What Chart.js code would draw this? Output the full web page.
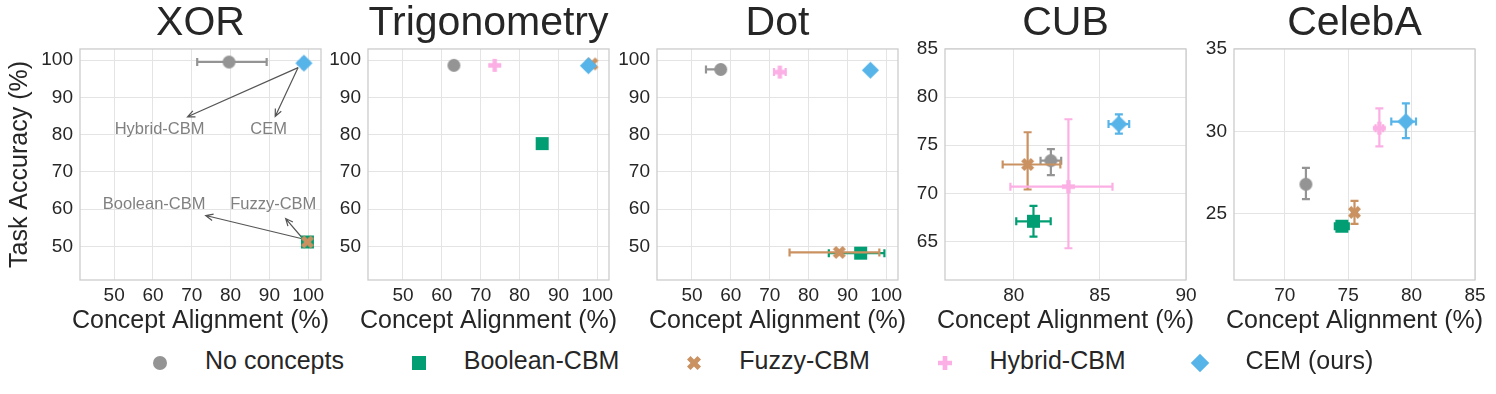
<!DOCTYPE html>
<html>
<head>
<meta charset="utf-8">
<script src="https://cdn.jsdelivr.net/npm/chart.js@4.4.1/dist/chart.umd.min.js"></script>
<style>
  html, body { margin: 0; padding: 0; background: #fff; }
  body { width: 1496px; height: 394px; position: relative; overflow: hidden;
         font-family: "Liberation Sans", Arial, sans-serif; }
  canvas.panel { position: absolute; top: 0; }
  #legend { position: absolute; left: 150px; top: 346px; display: flex; align-items: center;
            color: #262626; font-size: 25px; white-space: nowrap; }
  .item { display: flex; align-items: center; margin-right: 64.8px; }
  .item canvas { margin-right: 35px; margin-top: 4px; }
</style>
</head>
<body>
<canvas id="c0" class="panel"></canvas>
<canvas id="c1" class="panel"></canvas>
<canvas id="c2" class="panel"></canvas>
<canvas id="c3" class="panel"></canvas>
<canvas id="c4" class="panel"></canvas>
<div id="legend"></div>
<script>
// methods, in legend order
const methods = ['No concepts', 'Boolean-CBM', 'Fuzzy-CBM', 'Hybrid-CBM', 'CEM (ours)'];
const colors = ['#949494', '#029e73', '#ca9161', '#fbafe4', '#56b4e9'];
const shapes = ['circle', 'square', 'x', 'plus', 'diamond'];

// XOR
const xorX = [79.6, 99.8, 99.8, 98.8, 98.9];
const xorY = [99.5, 51.2, 51.2, 99.2, 99.2];
const xorXErr = [[8.2, 9.7], 0, 0, 0, 0];
const xorYErr = [0, 0, 0, 0, 0];

// Trigonometry
const trigX = [63.1, 85.8, 98.6, 73.6, 97.7];
const trigY = [98.6, 77.6, 99.0, 98.6, 98.5];
const trigXErr = [0, 0, 0, 0, 0];
const trigYErr = [0, 0, 0, 0, 0];

// Dot
const dotX = [57.4, 93.4, 87.9, 72.6, 95.9];
const dotY = [97.5, 48.2, 48.4, 96.8, 97.3];
const dotXErr = [[3.8, 0.8], [8.2, 6.1], [12.8, 10.3], 1.5, 0];
const dotYErr = [0, 0, 0, 0, 0];

// CUB
const cubX = [82.15, 81.14, 80.8, 83.17, 86.1];
const cubY = [73.4, 67.1, 73.0, 70.7, 77.2];
const cubXErr = [0.6, 1.0, [1.45, 1.9], [3.37, 2.56], 0.6];
const cubYErr = [[1.5, 1.2], 1.6, [2.6, 3.35], [6.4, 7.0], 1.0];

// CelebA
const celebX = [71.67, 74.5, 75.5, 77.46, 79.55];
const celebY = [26.8, 24.26, 25.1, 30.2, 30.6];
const celebXErr = [0.2, 0.55, 0.2, 0.3, [1.15, 0.8]];
const celebYErr = [[0.9, 1.0], 0.1, 0.7, [1.1, 1.2], [1.0, 1.1]];

// axes
const pctTicks = [50, 60, 70, 80, 90, 100];
const pctRange = [41, 103];
const cubXTicks = [80, 85, 90];
const cubYTicks = [65, 70, 75, 80, 85];
const cubXRange = [76, 90];
const cubYRange = [61, 85];
const celebXTicks = [70, 75, 80, 85];
const celebYTicks = [25, 30, 35];
const celebXRange = [66, 85];
const celebYRange = [21, 35];

// XOR annotations
const noteText = ['Hybrid-CBM', 'CEM', 'Boolean-CBM', 'Fuzzy-CBM'];
const noteX = [61.7, 89.8, 60.3, 91.0];
const noteY = [81.5, 81.5, 61.3, 61.3];
const arrowFromX = [97.4, 97.4, 98.7, 98.7];
const arrowFromY = [98.0, 98.0, 52.0, 52.0];
const arrowToX = [68.9, 91.5, 73.6, 94.2];
const arrowToY = [84.8, 84.9, 58.3, 57.5];

const xLabel = 'Concept Alignment (%)';
const yLabel = 'Task Accuracy (%)';

const FONT = '"Liberation Sans", Arial, sans-serif';
const INK = '#262626';
Chart.defaults.font.family = FONT;

const panels = [
  { title: 'XOR', x: xorX, y: xorY, xErr: xorXErr, yErr: xorYErr,
    xRange: [41.2, 103.3], yRange: pctRange, xTicks: pctTicks, yTicks: pctTicks },
  { title: 'Trigonometry', x: trigX, y: trigY, xErr: trigXErr, yErr: trigYErr,
    xRange: pctRange, yRange: pctRange, xTicks: pctTicks, yTicks: pctTicks },
  { title: 'Dot', x: dotX, y: dotY, xErr: dotXErr, yErr: dotYErr,
    xRange: pctRange, yRange: pctRange, xTicks: pctTicks, yTicks: pctTicks },
  { title: 'CUB', x: cubX, y: cubY, xErr: cubXErr, yErr: cubYErr,
    xRange: cubXRange, yRange: cubYRange, xTicks: cubXTicks, yTicks: cubYTicks },
  { title: 'CelebA', x: celebX, y: celebY, xErr: celebXErr, yErr: celebYErr,
    xRange: celebXRange, yRange: celebYRange, xTicks: celebXTicks, yTicks: celebYTicks }
];

const plotLefts = [80, 368, 657, 945, 1234];
const plotW = 241;

// matplotlib-like filled markers
const PLUS = [[-1,-3],[1,-3],[1,-1],[3,-1],[3,1],[1,1],[1,3],[-1,3],[-1,1],[-3,1],[-3,-1],[-1,-1]].map(p => [p[0]/6, p[1]/6]);
const XSHAPE = [[-1,-2],[0,-1],[1,-2],[2,-1],[1,0],[2,1],[1,2],[0,1],[-1,2],[-2,1],[-1,0],[-2,-1]].map(p => [p[0]/4, p[1]/4]);

function drawMarker(ctx, shape, cx, cy, s, color) {
  ctx.fillStyle = color;
  ctx.beginPath();
  if (shape === 'circle') {
    ctx.arc(cx, cy, s / 2, 0, Math.PI * 2);
  } else if (shape === 'square') {
    ctx.rect(cx - s / 2, cy - s / 2, s, s);
  } else if (shape === 'diamond') {
    const r = s * 0.66;
    ctx.moveTo(cx, cy - r); ctx.lineTo(cx + r, cy); ctx.lineTo(cx, cy + r); ctx.lineTo(cx - r, cy);
    ctx.closePath();
  } else {
    const pts = shape === 'plus' ? PLUS : XSHAPE;
    pts.forEach((p, k) => {
      const px = cx + p[0] * s, py = cy + p[1] * s;
      if (k === 0) ctx.moveTo(px, py); else ctx.lineTo(px, py);
    });
    ctx.closePath();
  }
  ctx.fill();
}

function markerImage(shape, color, s) {
  const c = document.createElement('canvas');
  const n = Math.ceil(s * 1.4) + 2;
  c.width = n; c.height = n;
  drawMarker(c.getContext('2d'), shape, n / 2, n / 2, s, color);
  return c;
}

const pair = e => Array.isArray(e) ? e : [e, e];

const errorBars = {
  id: 'errorBars',
  beforeDatasetDraw(chart, args) {
    const ds = chart.data.datasets[args.index];
    const xs = chart.scales.x, ys = chart.scales.y, ctx = chart.ctx;
    const cap = 4;
    ctx.save();
    ctx.strokeStyle = ds.errColor;
    ctx.lineWidth = 2.2;
    ds.data.forEach((p, j) => {
      const ex = pair(ds.xErr[j]), ey = pair(ds.yErr[j]);
      const px = xs.getPixelForValue(p.x), py = ys.getPixelForValue(p.y);
      ctx.beginPath();
      if (ex[0] || ex[1]) {
        const a = xs.getPixelForValue(p.x - ex[0]), b = xs.getPixelForValue(p.x + ex[1]);
        ctx.moveTo(a, py); ctx.lineTo(b, py);
        ctx.moveTo(a, py - cap); ctx.lineTo(a, py + cap);
        ctx.moveTo(b, py - cap); ctx.lineTo(b, py + cap);
      }
      if (ey[0] || ey[1]) {
        const a = ys.getPixelForValue(p.y - ey[0]), b = ys.getPixelForValue(p.y + ey[1]);
        ctx.moveTo(px, a); ctx.lineTo(px, b);
        ctx.moveTo(px - cap, a); ctx.lineTo(px + cap, a);
        ctx.moveTo(px - cap, b); ctx.lineTo(px + cap, b);
      }
      ctx.stroke();
    });
    ctx.restore();
  }
};

// plot frame on all four sides, plus the x-axis label drawn at full width
const frame = {
  id: 'frame',
  beforeDatasetsDraw(chart) {
    const { left, top, width, height } = chart.chartArea;
    const ctx = chart.ctx;
    ctx.save();
    ctx.strokeStyle = '#cccccc';
    ctx.lineWidth = 1.3;
    ctx.strokeRect(left, top, width, height);
    ctx.restore();
  },
  afterDraw(chart) {
    const { left, right } = chart.chartArea;
    const ctx = chart.ctx;
    ctx.save();
    ctx.fillStyle = INK;
    ctx.font = '25px ' + FONT;
    ctx.textAlign = 'center';
    ctx.textBaseline = 'middle';
    ctx.fillText(xLabel, (left + right) / 2, 321.5);
    ctx.restore();
  }
};

const xorNotes = {
  id: 'xorNotes',
  beforeDatasetsDraw(chart) {
    const xs = chart.scales.x, ys = chart.scales.y, ctx = chart.ctx;
    ctx.save();
    ctx.strokeStyle = '#555555';
    ctx.lineWidth = 1.2;
    noteText.forEach((t, i) => {
      const x0 = xs.getPixelForValue(arrowFromX[i]), y0 = ys.getPixelForValue(arrowFromY[i]);
      const x1 = xs.getPixelForValue(arrowToX[i]), y1 = ys.getPixelForValue(arrowToY[i]);
      const ang = Math.atan2(y1 - y0, x1 - x0), h = 8;
      ctx.beginPath();
      ctx.moveTo(x0, y0); ctx.lineTo(x1, y1);
      ctx.moveTo(x1 - h * Math.cos(ang - 0.42), y1 - h * Math.sin(ang - 0.42));
      ctx.lineTo(x1, y1);
      ctx.lineTo(x1 - h * Math.cos(ang + 0.42), y1 - h * Math.sin(ang + 0.42));
      ctx.stroke();
    });
    ctx.fillStyle = '#808080';
    ctx.font = '16.5px ' + FONT;
    ctx.textAlign = 'center';
    ctx.textBaseline = 'middle';
    noteText.forEach((t, i) => {
      ctx.fillText(t, xs.getPixelForValue(noteX[i]), ys.getPixelForValue(noteY[i]));
    });
    ctx.restore();
  }
};

const fixedTicks = vals => scale => { scale.ticks = vals.map(v => ({ value: v })); };

panels.forEach((P, i) => {
  const yW = i === 0 ? 80 : 50;
  const canvas = document.getElementById('c' + i);
  canvas.width = yW + plotW + 30;
  canvas.height = 340;
  canvas.style.left = (plotLefts[i] - yW) + 'px';

  const datasets = methods.map((m, k) => ({
    label: m,
    data: [{ x: P.x[k], y: P.y[k] }],
    xErr: [P.xErr[k]],
    yErr: [P.yErr[k]],
    errColor: colors[k],
    pointStyle: markerImage(shapes[k], colors[k], 13),
    pointRadius: 7,
    order: methods.length - k,
    clip: false
  }));

  new Chart(canvas, {
    type: 'scatter',
    data: { datasets },
    options: {
      responsive: false,
      animation: false,
      devicePixelRatio: 1,
      events: [],
      layout: { padding: { left: 0, right: 30, top: 0, bottom: 0 } },
      plugins: {
        legend: { display: false },
        tooltip: { enabled: false },
        title: {
          display: true, text: P.title, fullSize: false, color: INK,
          font: { size: 41, weight: 'normal', lineHeight: 1.17 }, padding: { top: 0, bottom: 1 }
        }
      },
      scales: {
        x: {
          type: 'linear', min: P.xRange[0], max: P.xRange[1],
          afterBuildTicks: fixedTicks(P.xTicks),
          afterFit: s => { s.height = 60; s.paddingLeft = 0; s.paddingRight = 0; },
          grid: { color: '#e4e4e4', lineWidth: 1, drawTicks: false },
          border: { display: false },
          ticks: { color: INK, font: { size: 19 }, padding: 4, maxRotation: 0, autoSkip: false }
        },
        y: {
          type: 'linear', min: P.yRange[0], max: P.yRange[1],
          afterBuildTicks: fixedTicks(P.yTicks),
          afterFit: s => { s.width = yW; s.paddingTop = 0; s.paddingBottom = 0; },
          grid: { color: '#e4e4e4', lineWidth: 1, drawTicks: false },
          border: { display: false },
          ticks: { color: INK, font: { size: 19 }, padding: 7, autoSkip: false },
          title: { display: i === 0, text: yLabel, color: INK,
                   font: { size: 25 }, padding: { top: 5, bottom: 4 } }
        }
      }
    },
    plugins: i === 0 ? [frame, xorNotes, errorBars] : [frame, errorBars]
  });
});

// shared legend
const legend = document.getElementById('legend');
methods.forEach((m, k) => {
  const item = document.createElement('div');
  item.className = 'item';
  const c = document.createElement('canvas');
  c.width = 20; c.height = 20;
  drawMarker(c.getContext('2d'), shapes[k], 10, 10, 14, colors[k]);
  const span = document.createElement('span');
  span.textContent = m;
  item.appendChild(c);
  item.appendChild(span);
  legend.appendChild(item);
});
</script>
</body>
</html>
